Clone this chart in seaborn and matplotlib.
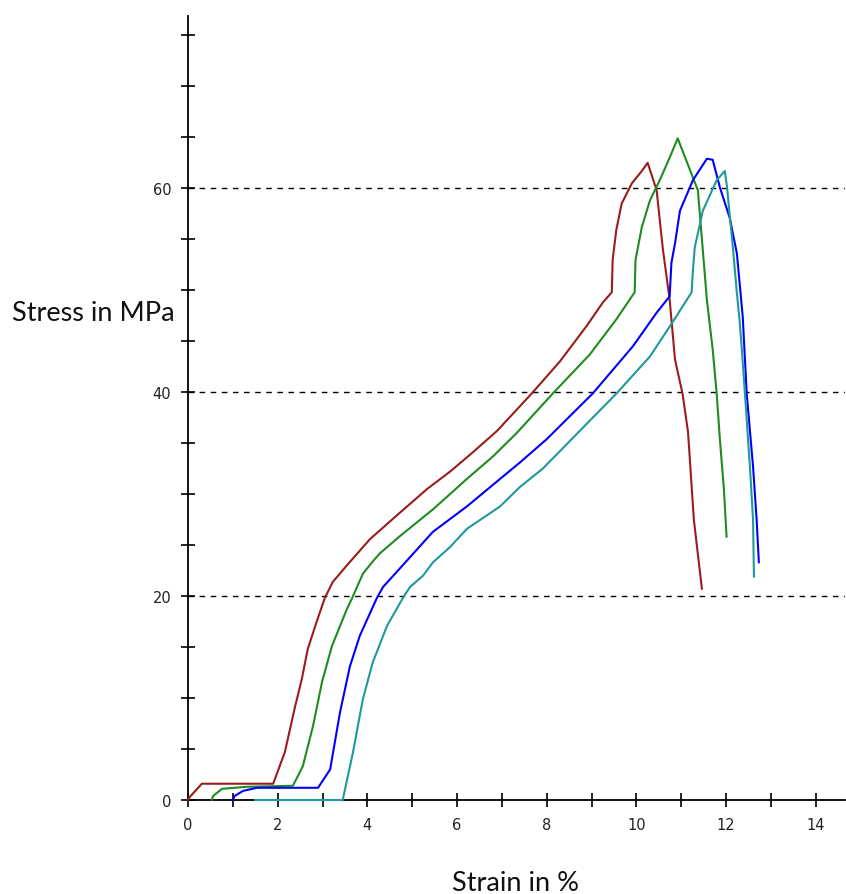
import pandas as pd
import numpy as np
import matplotlib
matplotlib.use("Agg")
import matplotlib.pyplot as plt
import seaborn as sns


# stress-strain curves (strain in %, stress in MPa)
red_strain = [0, 0.04, 0.31, 1.9, 2.16, 2.39, 2.54, 2.67, 2.87, 3.05, 3.23, 3.54, 4.06, 4.73, 5.33,
              5.84, 6.35, 6.89, 7.67, 8.29, 8.89, 9.25, 9.45, 9.47, 9.55, 9.67, 9.9, 10.12, 10.25,
              10.45, 10.59, 10.74, 10.86, 11.03, 11.15, 11.23, 11.28, 11.46]
red_stress = [0, 0.3, 1.6, 1.6, 4.7, 9.2, 11.9, 14.8, 17.5, 19.8, 21.4, 23.0, 25.6, 28.2, 30.5,
              32.2, 34.1, 36.2, 39.9, 43.0, 46.5, 48.8, 49.8, 53.0, 55.9, 58.5, 60.5, 61.7, 62.5,
              59.8, 54.0, 49.1, 43.2, 39.8, 36.1, 30.8, 27.5, 20.7]

green_strain = [0.53, 0.56, 0.76, 1.32, 2.34, 2.56, 2.79, 2.99, 3.21, 3.54, 3.66, 3.9, 4.12, 4.28,
                4.73, 5.46, 6.22, 6.8, 7.33, 8.14, 8.96, 9.56, 9.96, 9.98, 10.12, 10.3, 10.52,
                10.74, 10.92, 11.37, 11.57, 11.7, 11.79, 11.86, 11.95, 12.01]
green_stress = [0, 0.4, 1.1, 1.3, 1.4, 3.3, 7.3, 11.6, 15.1, 18.7, 19.8, 22.2, 23.4, 24.2,
                25.9, 28.5, 31.5, 33.7, 36.0, 39.9, 43.7, 47.2, 49.8, 53.0, 56.2, 58.8, 60.8,
                63.0, 64.9, 59.8, 49.1, 44.2, 39.8, 35.4, 30.5, 25.8]

blue_strain = [1.0, 1.04, 1.23, 1.54, 2.9, 3.17, 3.39, 3.61, 3.83, 4.21, 4.35, 4.66, 5.46, 6.22,
               6.96, 7.4, 8.0, 9.03, 9.92, 10.45, 10.74, 10.78, 10.86, 10.97, 11.26, 11.57, 11.7,
               11.86, 12.08, 12.24, 12.37, 12.46, 12.6, 12.68, 12.73]
blue_stress = [0, 0.4, 0.9, 1.2, 1.2, 3.0, 8.6, 13.1, 16.1, 19.8, 20.9, 22.4, 26.3, 28.8,
               31.5, 33.1, 35.4, 39.9, 44.5, 47.8, 49.4, 52.7, 54.6, 57.8, 60.8, 62.9, 62.8,
               60.1, 57.1, 53.6, 47.4, 39.8, 32.7, 27.5, 23.3]

teal_strain = [1.49, 3.45, 3.68, 3.9, 4.12, 4.44, 4.79, 4.95, 5.24, 5.46, 5.84, 6.22, 6.96, 7.4,
               7.91, 9.56, 10.3, 10.81, 11.23, 11.26, 11.3, 11.48, 11.79, 11.97, 12.02, 12.15,
               12.24, 12.3, 12.35, 12.42, 12.53, 12.6, 12.62]
teal_stress = [0, 0, 4.7, 9.9, 13.5, 17.1, 19.8, 20.9, 22.0, 23.3, 24.8, 26.6, 28.8, 30.7,
               32.5, 39.9, 43.5, 46.9, 49.8, 52.0, 54.2, 57.8, 60.8, 61.7, 60.1, 54.2,
               49.7, 47.0, 44.2, 39.8, 32.7, 27.5, 21.9]

samples = ['1', '2', '3', '4']
colors = ['#9c1c1c', '#1e8c1e', '#0000ff', '#1f9999']
grid_levels = [20, 40, 60]


def build_frame():
    parts = []
    for name, xs, ys in zip(samples,
                            [red_strain, green_strain, blue_strain, teal_strain],
                            [red_stress, green_stress, blue_stress, teal_stress]):
        parts.append(pd.DataFrame({'strain': xs, 'stress': ys, 'sample': name}))
    return pd.concat(parts, ignore_index=True)


def main():
    sns.set_style("white")
    df = build_frame()

    fig = plt.figure(figsize=(8.46, 8.95), dpi=100)
    ax = fig.add_axes([0.2222, 0.105, 0.7766, 0.876])

    for lvl in grid_levels:
        ax.axhline(lvl, color='black', lw=1.0, linestyle=(0, (4, 4)), zorder=1)

    sns.lineplot(data=df, x='strain', y='stress', hue='sample', units='sample',
                 estimator=None, sort=False, palette=colors, linewidth=1.5,
                 legend=False, ax=ax)
    for line in ax.get_lines()[len(grid_levels):]:
        line.set_clip_on(False)
        line.set_zorder(4)

    ax.set_xlim(0, 14.65)
    ax.set_ylim(0, 76.9)
    ax.set_xticks(np.arange(0, 15, 2))
    ax.set_xticks(np.arange(0, 15, 1), minor=True)
    ax.set_yticks([0, 20, 40, 60])
    ax.set_yticks(np.arange(0, 76, 5), minor=True)

    for side in ['top', 'right']:
        ax.spines[side].set_visible(False)
    for side in ['left', 'bottom']:
        ax.spines[side].set_color('black')
        ax.spines[side].set_linewidth(1.3)

    ax.tick_params(which='both', bottom=True, left=True, direction='inout',
                   length=10, width=1.2, color='black')
    ax.tick_params(axis='both', which='major', labelsize=10.5, pad=7, labelcolor='#222222')

    ax.set_xlabel('Strain in %', fontsize=19.5, family='Lato', color='#111111', va='center')
    ax.set_ylabel('Stress in MPa', fontsize=19.5, family='Lato', color='#111111',
                  rotation=0, ha='center', va='center')
    ax.xaxis.set_label_coords(0.498, -0.105)
    ax.yaxis.set_label_coords(-0.1446, 0.622)

    fig.savefig('out.png', dpi=100)


if __name__ == "__main__":
    main()
